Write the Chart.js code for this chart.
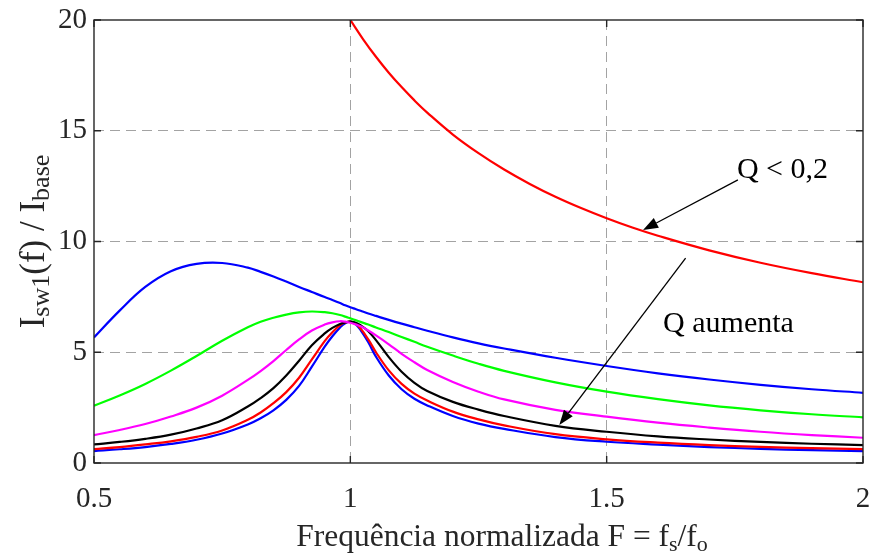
<!DOCTYPE html>
<html>
<head>
<meta charset="utf-8">
<script src="https://cdn.jsdelivr.net/npm/chart.js@4.4.1/dist/chart.umd.min.js"></script>
<style>
  html, body { margin: 0; padding: 0; background: #ffffff; }
  #wrap { width: 880px; height: 554px; position: relative; }
</style>
</head>
<body>
<div id="wrap"><canvas id="c" width="880" height="554"></canvas></div>
<script>
// Normalised switching frequency F = fs/fo (shared by the resonant family)
const freq = [0.5, 0.55, 0.6, 0.65, 0.7, 0.75, 0.8, 0.825, 0.85, 0.875, 0.9, 0.925, 0.95, 0.965, 0.98, 0.99, 1.0,
              1.01, 1.02, 1.035, 1.05, 1.075, 1.1, 1.125, 1.15, 1.2, 1.25, 1.3, 1.4, 1.5, 1.6, 1.7, 1.8, 1.9, 2.0];

// Isw1(f)/Ibase for increasing quality factor Q
const curveBlueWide = [5.67, 6.88, 7.95, 8.66, 8.99, 9.03, 8.82, 8.63, 8.42, 8.19, 7.95, 7.72, 7.49, 7.36, 7.22, 7.12, 7.03,
                       6.95, 6.87, 6.75, 6.64, 6.46, 6.29, 6.13, 5.97, 5.67, 5.4, 5.17, 4.75, 4.38, 4.05, 3.77, 3.53, 3.33, 3.17];
const curveGreen    = [2.59, 3.05, 3.57, 4.17, 4.83, 5.52, 6.13, 6.38, 6.56, 6.7, 6.8, 6.84, 6.81, 6.76, 6.68, 6.61, 6.53,
                       6.45, 6.37, 6.25, 6.12, 5.91, 5.69, 5.47, 5.25, 4.85, 4.48, 4.16, 3.64, 3.22, 2.88, 2.6, 2.38, 2.2, 2.06];
const curveMagenta  = [1.26, 1.49, 1.76, 2.1, 2.5, 3.04, 3.75, 4.15, 4.6, 5.1, 5.58, 5.98, 6.25, 6.35, 6.4, 6.38, 6.33,
                       6.26, 6.17, 5.98, 5.76, 5.36, 4.93, 4.55, 4.2, 3.66, 3.22, 2.87, 2.4, 2.09, 1.82, 1.6, 1.41, 1.26, 1.14];
const curveBlack    = [0.84, 0.95, 1.09, 1.28, 1.56, 1.93, 2.55, 2.93, 3.38, 3.95, 4.62, 5.32, 5.85, 6.1, 6.28, 6.35, 6.38,
                       6.34, 6.22, 5.95, 5.55, 4.78, 4.12, 3.62, 3.25, 2.76, 2.41, 2.12, 1.68, 1.41, 1.2, 1.06, 0.95, 0.87, 0.81];
const curveRed      = [0.63, 0.72, 0.84, 0.98, 1.18, 1.47, 1.95, 2.28, 2.7, 3.2, 3.85, 4.68, 5.5, 5.9, 6.22, 6.34, 6.38,
                       6.29, 6.07, 5.58, 5.0, 4.18, 3.57, 3.13, 2.82, 2.32, 1.97, 1.7, 1.3, 1.07, 0.92, 0.81, 0.73, 0.67, 0.63];
const curveBlueNarrow = [0.54, 0.62, 0.72, 0.86, 1.05, 1.33, 1.74, 2.02, 2.38, 2.85, 3.48, 4.35, 5.25, 5.72, 6.12, 6.31, 6.38,
                       6.27, 6.0, 5.45, 4.8, 3.95, 3.33, 2.9, 2.6, 2.12, 1.78, 1.54, 1.17, 0.96, 0.83, 0.72, 0.64, 0.58, 0.54];

// Q < 0,2 branch (only above resonance)
const lowQFreq = [1.0, 1.025, 1.05, 1.075, 1.1, 1.125, 1.15, 1.2, 1.25, 1.3, 1.35, 1.4, 1.45, 1.5, 1.55,
                  1.6, 1.7, 1.8, 1.9, 2.0];
const lowQVals = [20.0, 19.13, 18.34, 17.62, 16.97, 16.37, 15.82, 14.83, 13.99, 13.25, 12.6, 12.02, 11.51, 11.05, 10.63,
                  10.26, 9.6, 9.04, 8.57, 8.16];

// Axis ticks
const xTickValues = [0.5, 1, 1.5, 2];
const xTickLabels = ['0.5', '1', '1.5', '2'];
const yTickValues = [0, 5, 10, 15, 20];
const yTickLabels = ['0', '5', '10', '15', '20'];

const SERIF = '"Liberation Serif", "Times New Roman", serif';
const INK = '#262626';

function pts(xs, ys) { return xs.map((x, i) => ({ x: x, y: ys[i] })); }
function series(label, xs, ys, color) {
  return {
    label: label, data: pts(xs, ys), borderColor: color, backgroundColor: color,
    borderWidth: 2.2, pointRadius: 0, showLine: true, fill: false,
    tension: 0.4
  };
}

// Rich text with subscripts: parts = [[text, isSub], ...]
function richWidth(ctx, parts, size, subSize) {
  let w = 0;
  for (const [t, sub] of parts) {
    ctx.font = (sub ? subSize : size) + 'px ' + SERIF;
    w += ctx.measureText(t).width;
  }
  return w;
}
function drawRich(ctx, parts, x, y, size, subSize, subShift) {
  let cx = x;
  for (const [t, sub] of parts) {
    ctx.font = (sub ? subSize : size) + 'px ' + SERIF;
    ctx.fillText(t, cx, sub ? y + subShift : y);
    cx += ctx.measureText(t).width;
  }
}

function arrow(ctx, x1, y1, x2, y2) {
  const ang = Math.atan2(y2 - y1, x2 - x1);
  const hl = 15, hw = 5.5;
  const bx = x2 - hl * Math.cos(ang), by = y2 - hl * Math.sin(ang);
  ctx.beginPath();
  ctx.moveTo(x1, y1);
  ctx.lineTo(bx, by);
  ctx.lineWidth = 1.3;
  ctx.strokeStyle = '#000';
  ctx.stroke();
  ctx.beginPath();
  ctx.moveTo(x2, y2);
  ctx.lineTo(bx + hw * Math.sin(ang), by - hw * Math.cos(ang));
  ctx.lineTo(bx - hw * Math.sin(ang), by + hw * Math.cos(ang));
  ctx.closePath();
  ctx.fillStyle = '#000';
  ctx.fill();
}

// Annotation anchors in data units
const noteLowQ = { text: 'Q < 0,2', x: 1.754, y: 12.87 };
const arrowLowQ = { x1: 1.756, y1: 12.78, x2: 1.571, y2: 10.52 };
const noteRise = { text: 'Q aumenta', x: 1.61, y: 5.93 };
const arrowRise = { x1: 1.654, y1: 9.25, x2: 1.4076, y2: 1.716 };

const framePlugin = {
  id: 'frame',
  afterDatasetsDraw(chart) {
    const ctx = chart.ctx;
    const a = chart.chartArea;
    const xs = chart.scales.x, ys = chart.scales.y;
    ctx.save();
    // box
    ctx.strokeStyle = INK;
    ctx.lineWidth = 1.4;
    ctx.strokeRect(a.left, a.top, a.right - a.left, a.bottom - a.top);
    // inward ticks on all four sides
    const tl = 7;
    ctx.beginPath();
    for (const v of xTickValues) {
      const px = xs.getPixelForValue(v);
      ctx.moveTo(px, a.bottom); ctx.lineTo(px, a.bottom - tl);
      ctx.moveTo(px, a.top); ctx.lineTo(px, a.top + tl);
    }
    for (const v of yTickValues) {
      const py = ys.getPixelForValue(v);
      ctx.moveTo(a.left, py); ctx.lineTo(a.left + tl, py);
      ctx.moveTo(a.right, py); ctx.lineTo(a.right - tl, py);
    }
    ctx.stroke();

    // annotations
    ctx.fillStyle = '#000';
    ctx.textBaseline = 'alphabetic';
    ctx.textAlign = 'left';
    ctx.font = '30px ' + SERIF;
    ctx.fillText(noteLowQ.text, xs.getPixelForValue(noteLowQ.x), ys.getPixelForValue(noteLowQ.y));
    ctx.fillText(noteRise.text, xs.getPixelForValue(noteRise.x), ys.getPixelForValue(noteRise.y));
    arrow(ctx, xs.getPixelForValue(arrowLowQ.x1), ys.getPixelForValue(arrowLowQ.y1),
               xs.getPixelForValue(arrowLowQ.x2), ys.getPixelForValue(arrowLowQ.y2));
    arrow(ctx, xs.getPixelForValue(arrowRise.x1), ys.getPixelForValue(arrowRise.y1),
               xs.getPixelForValue(arrowRise.x2), ys.getPixelForValue(arrowRise.y2));

    // x axis title
    ctx.fillStyle = INK;
    const xParts = [['Frequência normalizada F = f', false], ['s', true], ['/f', false], ['o', true]];
    const xw = richWidth(ctx, xParts, 31.5, 22);
    drawRich(ctx, xParts, 502 - xw / 2, 546, 31.5, 22, 5);

    // y axis title (rotated)
    const yParts = [['I', false], ['sw1', true], ['(f) / I', false], ['base', true]];
    const yw = richWidth(ctx, yParts, 35, 26);
    ctx.translate(44, (a.top + a.bottom) / 2);
    ctx.rotate(-Math.PI / 2);
    drawRich(ctx, yParts, -yw / 2, 0, 35, 26, 5);
    ctx.restore();
  }
};

const gridColor = (c) => {
  const v = c.tick ? c.tick.value : null;
  return (v === null || c.index === 0 || c.index === c.scale.ticks.length - 1) ? 'rgba(0,0,0,0)' : '#a3a3a3';
};

new Chart(document.getElementById('c'), {
  type: 'scatter',
  data: {
    datasets: [
      series('Q muito baixo', freq, curveBlueWide, '#0000ff'),
      series('Q baixo', freq, curveGreen, '#00ff00'),
      series('Q médio', freq, curveMagenta, '#ff00ff'),
      series('Q alto', freq, curveBlack, '#000000'),
      series('Q mais alto', freq, curveRed, '#ff0000'),
      series('Q máximo', freq, curveBlueNarrow, '#0000ff'),
      series('Q < 0,2', lowQFreq, lowQVals, '#ff0000')
    ]
  },
  options: {
    responsive: false,
    animation: false,
    devicePixelRatio: 1,
    layout: { padding: { top: 20, right: 17, left: 0, bottom: 0 } },
    plugins: { legend: { display: false }, tooltip: { enabled: false } },
    scales: {
      x: {
        type: 'linear', min: 0.5, max: 2,
        afterBuildTicks: (s) => { s.ticks = xTickValues.map(v => ({ value: v })); },
        afterFit: (s) => { s.height = 91; s.paddingLeft = 0; s.paddingRight = 0; },
        ticks: {
          autoSkip: false, maxRotation: 0, padding: 19, color: INK,
          font: { family: SERIF, size: 29 },
          callback: (v) => xTickLabels[xTickValues.indexOf(v)]
        },
        grid: { color: gridColor, lineWidth: 1, drawTicks: false },
        border: { display: false, dash: [10, 6] }
      },
      y: {
        type: 'linear', min: 0, max: 20,
        afterBuildTicks: (s) => { s.ticks = yTickValues.map(v => ({ value: v })); },
        afterFit: (s) => { s.width = 94; s.paddingTop = 0; s.paddingBottom = 0; },
        ticks: {
          autoSkip: false, padding: 7, color: INK,
          font: { family: SERIF, size: 29 },
          callback: (v) => yTickLabels[yTickValues.indexOf(v)]
        },
        grid: { color: gridColor, lineWidth: 1, drawTicks: false },
        border: { display: false, dash: [10, 6] }
      }
    }
  },
  plugins: [framePlugin]
});
</script>
</body>
</html>
